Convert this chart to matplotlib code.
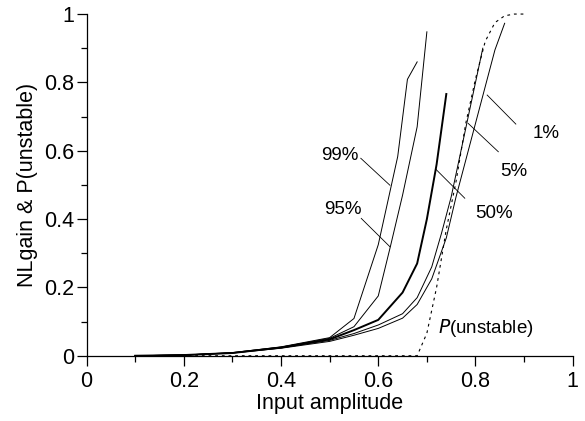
import matplotlib
matplotlib.use("Agg")
import matplotlib.pyplot as plt
from matplotlib.ticker import MultipleLocator

plt.rcParams['font.family'] = ['Liberation Sans', 'DejaVu Sans']

# ---- data ----
low_x = [0.1, 0.2, 0.3, 0.4, 0.5]

x99 = low_x + [0.55, 0.60, 0.64, 0.66, 0.68]
y99 = [0.0, 0.002, 0.009, 0.026, 0.053, 0.109, 0.325, 0.583, 0.809, 0.860]

x95 = low_x + [0.55, 0.60, 0.625, 0.65, 0.68, 0.70]
y95 = [0.0, 0.002, 0.009, 0.025, 0.051, 0.085, 0.175, 0.32, 0.47, 0.67, 0.948]

x50 = low_x + [0.55, 0.60, 0.65, 0.68, 0.70, 0.72, 0.74]
y50 = [0.0, 0.002, 0.008, 0.024, 0.048, 0.075, 0.105, 0.185, 0.27, 0.40, 0.56, 0.766]

x5 = low_x + [0.55, 0.60, 0.65, 0.68, 0.71, 0.73, 0.75, 0.815]
y5 = [0.0, 0.002, 0.008, 0.023, 0.045, 0.065, 0.09, 0.123, 0.17, 0.26, 0.358, 0.465, 0.90]

x1 = low_x + [0.55, 0.60, 0.65, 0.68, 0.71, 0.74, 0.76, 0.84, 0.86]
y1 = [0.0, 0.002, 0.008, 0.022, 0.042, 0.06, 0.08, 0.11, 0.15, 0.225, 0.345, 0.465, 0.895, 0.973]

xP = [0.1, 0.68, 0.70, 0.72, 0.74, 0.76, 0.78, 0.80, 0.82, 0.84, 0.86, 0.88, 0.90]
yP = [0.0, 0.0, 0.066, 0.20, 0.37, 0.51, 0.68, 0.81, 0.92, 0.975, 0.995, 1.0, 1.0]

labels = ["99%", "95%", "50%", "5%", "1%"]
label_xy = [(0.520, 0.587), (0.527, 0.429), (0.839, 0.415), (0.878, 0.538), (0.945, 0.651)]
leader_start = [(0.564, 0.578), (0.565, 0.402), (0.778, 0.461), (0.847, 0.597), (0.883, 0.678)]
leader_end = [(0.624, 0.499), (0.624, 0.319), (0.719, 0.545), (0.785, 0.680), (0.824, 0.763)]

# ---- figure ----
fig = plt.figure(figsize=(5.85, 4.21), dpi=100)
ax = fig.add_axes([0.148, 0.155, 0.831, 0.8116])

thin = 0.7
ax.plot(x99, y99, color='black', lw=thin, clip_on=False)
ax.plot(x95, y95, color='black', lw=thin, clip_on=False)
ax.plot(x50, y50, color='black', lw=1.4, clip_on=False)
ax.plot(x5, y5, color='black', lw=thin, clip_on=False)
ax.plot(x1, y1, color='black', lw=thin, clip_on=False)
ax.plot(xP, yP, color='black', lw=0.8, linestyle=(0, (2.5, 3.5)), clip_on=False)

for lab, (tx, ty), (sx, sy), (ex, ey) in zip(labels, label_xy, leader_start, leader_end):
    ax.text(tx, ty, lab, fontsize=13.5, ha='center', va='center')
    ax.plot([sx, ex], [sy, ey], color='black', lw=0.6, clip_on=False)

ax.text(0.723, 0.080, r"$\it{P}$(unstable)", fontsize=13.5, ha='left', va='center')

ax.set_xlim(0, 1)
ax.set_ylim(0, 1)
ax.spines['top'].set_visible(False)
ax.spines['right'].set_visible(False)
for s in ('left', 'bottom'):
    ax.spines[s].set_linewidth(0.9)

ax.xaxis.set_major_locator(MultipleLocator(0.2))
ax.xaxis.set_minor_locator(MultipleLocator(0.1))
ax.yaxis.set_major_locator(MultipleLocator(0.2))
ax.yaxis.set_minor_locator(MultipleLocator(0.1))
ax.tick_params(which='major', direction='out', length=7, width=0.9, labelsize=15.5)
ax.tick_params(which='minor', direction='out', length=4, width=0.9)
ax.tick_params(axis='x', which='major', pad=4)
ax.tick_params(axis='y', which='major', pad=2)

def fmt(v, pos):
    if abs(v) < 1e-9:
        return "0"
    if abs(v - 1) < 1e-9:
        return "1"
    return f"{v:.1f}"
ax.xaxis.set_major_formatter(plt.FuncFormatter(fmt))
ax.yaxis.set_major_formatter(plt.FuncFormatter(fmt))

ax.set_xlabel("Input amplitude", fontsize=15.5, labelpad=1)
ax.set_ylabel("NLgain & P(unstable)", fontsize=15.5, labelpad=4)

fig.savefig("out.png", dpi=100)
